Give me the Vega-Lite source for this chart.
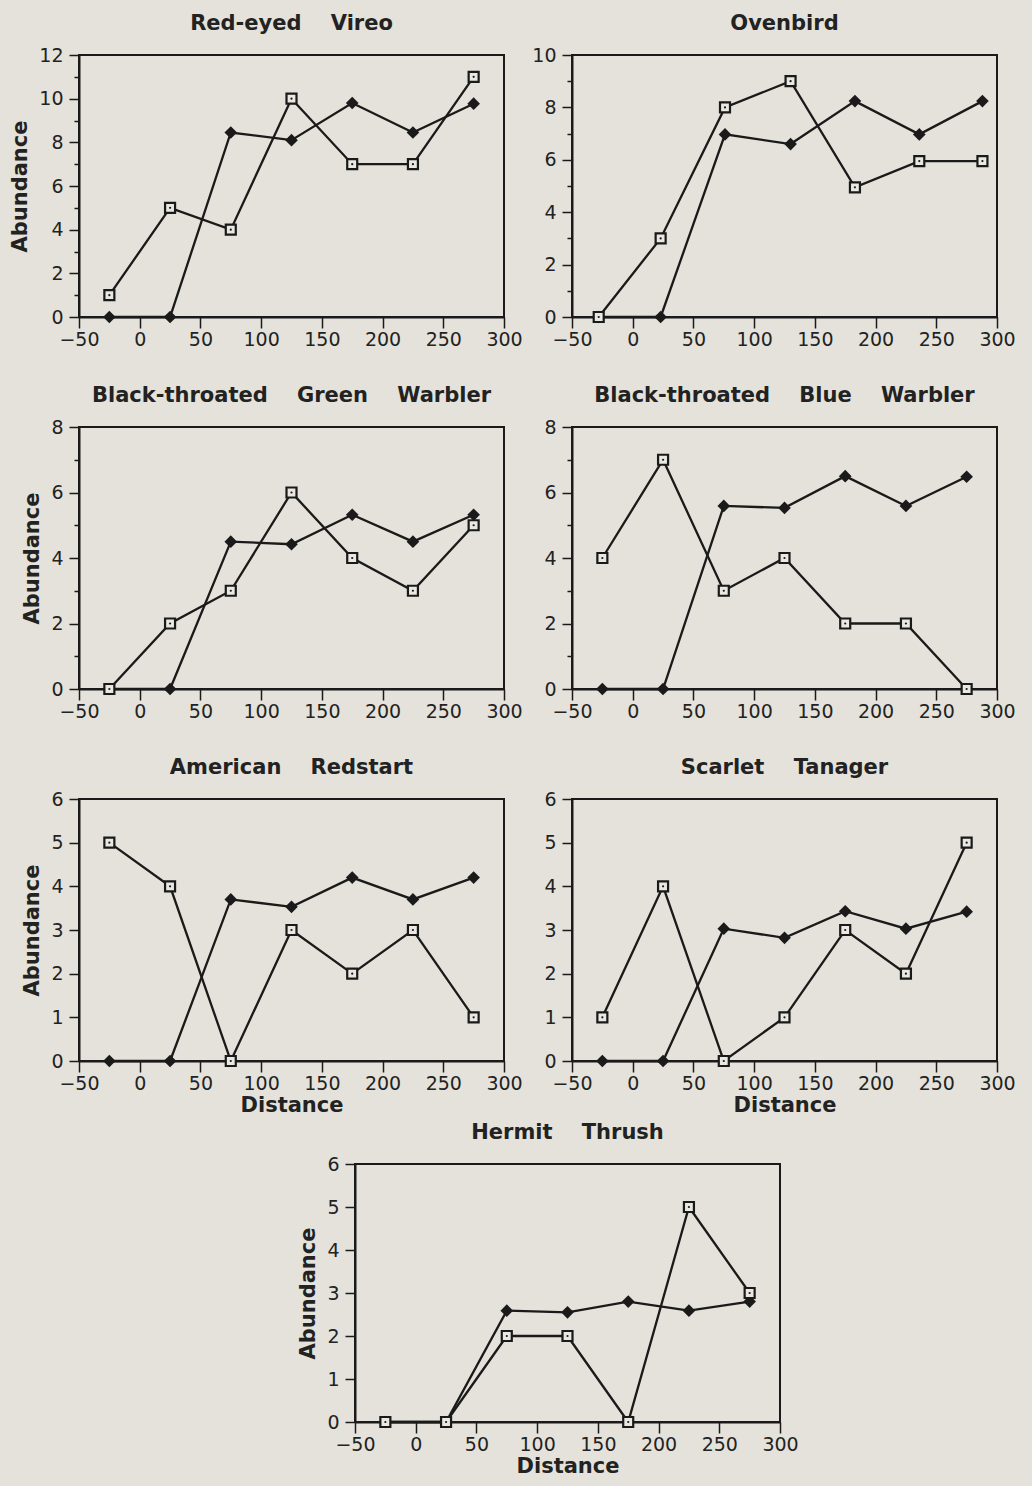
{
  "$schema": "https://vega.github.io/schema/vega-lite/v6.json",
  "background": "#e4e2da",
  "padding": {"left": 8, "top": 12, "right": 30, "bottom": 20},
  "data": {"values": [
    {"sp":"RV","s":"B","d":-25,"a":1},{"sp":"RV","s":"B","d":25,"a":5},{"sp":"RV","s":"B","d":75,"a":4},{"sp":"RV","s":"B","d":125,"a":10},{"sp":"RV","s":"B","d":175,"a":7},{"sp":"RV","s":"B","d":225,"a":7},{"sp":"RV","s":"B","d":275,"a":11},
    {"sp":"RV","s":"A","d":-25,"a":0},{"sp":"RV","s":"A","d":25,"a":0},{"sp":"RV","s":"A","d":75,"a":8.45},{"sp":"RV","s":"A","d":125,"a":8.1},{"sp":"RV","s":"A","d":175,"a":9.8},{"sp":"RV","s":"A","d":225,"a":8.45},{"sp":"RV","s":"A","d":275,"a":9.77},
    {"sp":"OV","s":"B","d":-28,"a":0},{"sp":"OV","s":"B","d":23,"a":3},{"sp":"OV","s":"B","d":76,"a":8},{"sp":"OV","s":"B","d":130,"a":9},{"sp":"OV","s":"B","d":183,"a":4.95},{"sp":"OV","s":"B","d":236,"a":5.95},{"sp":"OV","s":"B","d":288,"a":5.95},
    {"sp":"OV","s":"A","d":-28,"a":0},{"sp":"OV","s":"A","d":23,"a":0},{"sp":"OV","s":"A","d":76,"a":6.97},{"sp":"OV","s":"A","d":130,"a":6.6},{"sp":"OV","s":"A","d":183,"a":8.24},{"sp":"OV","s":"A","d":236,"a":6.97},{"sp":"OV","s":"A","d":288,"a":8.24},
    {"sp":"BTGW","s":"B","d":-25,"a":0},{"sp":"BTGW","s":"B","d":25,"a":2},{"sp":"BTGW","s":"B","d":75,"a":3},{"sp":"BTGW","s":"B","d":125,"a":6},{"sp":"BTGW","s":"B","d":175,"a":4},{"sp":"BTGW","s":"B","d":225,"a":3},{"sp":"BTGW","s":"B","d":275,"a":5},
    {"sp":"BTGW","s":"A","d":-25,"a":0},{"sp":"BTGW","s":"A","d":25,"a":0},{"sp":"BTGW","s":"A","d":75,"a":4.5},{"sp":"BTGW","s":"A","d":125,"a":4.42},{"sp":"BTGW","s":"A","d":175,"a":5.32},{"sp":"BTGW","s":"A","d":225,"a":4.5},{"sp":"BTGW","s":"A","d":275,"a":5.32},
    {"sp":"BTBW","s":"B","d":-25,"a":4},{"sp":"BTBW","s":"B","d":25,"a":7},{"sp":"BTBW","s":"B","d":75,"a":3},{"sp":"BTBW","s":"B","d":125,"a":4},{"sp":"BTBW","s":"B","d":175,"a":2},{"sp":"BTBW","s":"B","d":225,"a":2},{"sp":"BTBW","s":"B","d":275,"a":0},
    {"sp":"BTBW","s":"A","d":-25,"a":0},{"sp":"BTBW","s":"A","d":25,"a":0},{"sp":"BTBW","s":"A","d":75,"a":5.59},{"sp":"BTBW","s":"A","d":125,"a":5.53},{"sp":"BTBW","s":"A","d":175,"a":6.5},{"sp":"BTBW","s":"A","d":225,"a":5.59},{"sp":"BTBW","s":"A","d":275,"a":6.48},
    {"sp":"AR","s":"B","d":-25,"a":5},{"sp":"AR","s":"B","d":25,"a":4},{"sp":"AR","s":"B","d":75,"a":0},{"sp":"AR","s":"B","d":125,"a":3},{"sp":"AR","s":"B","d":175,"a":2},{"sp":"AR","s":"B","d":225,"a":3},{"sp":"AR","s":"B","d":275,"a":1},
    {"sp":"AR","s":"A","d":-25,"a":0},{"sp":"AR","s":"A","d":25,"a":0},{"sp":"AR","s":"A","d":75,"a":3.7},{"sp":"AR","s":"A","d":125,"a":3.53},{"sp":"AR","s":"A","d":175,"a":4.2},{"sp":"AR","s":"A","d":225,"a":3.7},{"sp":"AR","s":"A","d":275,"a":4.2},
    {"sp":"ST","s":"B","d":-25,"a":1},{"sp":"ST","s":"B","d":25,"a":4},{"sp":"ST","s":"B","d":75,"a":0},{"sp":"ST","s":"B","d":125,"a":1},{"sp":"ST","s":"B","d":175,"a":3},{"sp":"ST","s":"B","d":225,"a":2},{"sp":"ST","s":"B","d":275,"a":5},
    {"sp":"ST","s":"A","d":-25,"a":0},{"sp":"ST","s":"A","d":25,"a":0},{"sp":"ST","s":"A","d":75,"a":3.03},{"sp":"ST","s":"A","d":125,"a":2.82},{"sp":"ST","s":"A","d":175,"a":3.43},{"sp":"ST","s":"A","d":225,"a":3.03},{"sp":"ST","s":"A","d":275,"a":3.42},
    {"sp":"HT","s":"B","d":-25,"a":0},{"sp":"HT","s":"B","d":25,"a":0},{"sp":"HT","s":"B","d":75,"a":2},{"sp":"HT","s":"B","d":125,"a":2},{"sp":"HT","s":"B","d":175,"a":0},{"sp":"HT","s":"B","d":225,"a":5},{"sp":"HT","s":"B","d":275,"a":3},
    {"sp":"HT","s":"A","d":-25,"a":0},{"sp":"HT","s":"A","d":25,"a":0},{"sp":"HT","s":"A","d":75,"a":2.59},{"sp":"HT","s":"A","d":125,"a":2.55},{"sp":"HT","s":"A","d":175,"a":2.8},{"sp":"HT","s":"A","d":225,"a":2.59},{"sp":"HT","s":"A","d":275,"a":2.8}
  ]},
  "spacing": 5,
  "vconcat": [
    {"spacing": 34, "vconcat": [
    {"bounds": "flush", "spacing": 68, "hconcat": [
      {"width": 425, "height": 262, "title": "Red-eyed\u00a0\u00a0\u00a0 Vireo",
       "transform": [{"filter": "datum.sp === 'RV'"}],
       "encoding": {
         "x": {"field": "d", "type": "quantitative", "scale": {"domain": [-50, 300], "nice": false}, "axis": {"title": null, "values": [-50,0,50,100,150,200,250,300], "tickSize": 11, "labelPadding": 2}},
         "y": {"field": "a", "type": "quantitative", "scale": {"domain": [0, 12], "nice": false}, "axis": {"title": "Abundance", "titlePadding": 8, "format": "d", "values": [0,1,2,3,4,5,6,7,8,9,10,11,12], "labelExpr": "datum.value % 2 === 0 ? datum.label : ''", "tickSize": {"condition": {"test": "datum.value % 2 === 0", "value": 10}, "value": 5}, "labelPadding": 6}}
       },
       "layer": [
         {"mark": {"type": "line", "color": "#1a1a1a", "strokeWidth": 2.3}, "encoding": {"detail": {"field": "s"}}},
         {"transform": [{"filter": "datum.s === 'A'"}], "mark": {"type": "point", "shape": "diamond", "filled": true, "color": "#1a1a1a", "size": 160, "opacity": 1}},
         {"transform": [{"filter": "datum.s === 'B'"}], "mark": {"type": "point", "shape": "square", "fill": "#e9e8e2", "stroke": "#1a1a1a", "strokeWidth": 2.2, "size": 100, "opacity": 1, "fillOpacity": 1}},
         {"transform": [{"filter": "datum.s === 'B'"}], "mark": {"type": "point", "shape": "circle", "filled": true, "color": "#1a1a1a", "size": 5, "opacity": 1}}
       ]},
      {"width": 425, "height": 262, "title": "Ovenbird",
       "transform": [{"filter": "datum.sp === 'OV'"}],
       "encoding": {
         "x": {"field": "d", "type": "quantitative", "scale": {"domain": [-50, 300], "nice": false}, "axis": {"title": null, "values": [-50,0,50,100,150,200,250,300], "tickSize": 11, "labelPadding": 2}},
         "y": {"field": "a", "type": "quantitative", "scale": {"domain": [0, 10], "nice": false}, "axis": {"title": null, "format": "d", "values": [0,1,2,3,4,5,6,7,8,9,10], "labelExpr": "datum.value % 2 === 0 ? datum.label : ''", "tickSize": {"condition": {"test": "datum.value % 2 === 0", "value": 10}, "value": 5}, "labelPadding": 6}}
       },
       "layer": [
         {"mark": {"type": "line", "color": "#1a1a1a", "strokeWidth": 2.3}, "encoding": {"detail": {"field": "s"}}},
         {"transform": [{"filter": "datum.s === 'A'"}], "mark": {"type": "point", "shape": "diamond", "filled": true, "color": "#1a1a1a", "size": 160, "opacity": 1}},
         {"transform": [{"filter": "datum.s === 'B'"}], "mark": {"type": "point", "shape": "square", "fill": "#e9e8e2", "stroke": "#1a1a1a", "strokeWidth": 2.2, "size": 100, "opacity": 1, "fillOpacity": 1}},
         {"transform": [{"filter": "datum.s === 'B'"}], "mark": {"type": "point", "shape": "circle", "filled": true, "color": "#1a1a1a", "size": 5, "opacity": 1}}
       ]}
    ]},
    {"bounds": "flush", "spacing": 68, "hconcat": [
      {"width": 425, "height": 262, "title": "Black-throated\u00a0\u00a0\u00a0 Green\u00a0\u00a0\u00a0 Warbler",
       "transform": [{"filter": "datum.sp === 'BTGW'"}],
       "encoding": {
         "x": {"field": "d", "type": "quantitative", "scale": {"domain": [-50, 300], "nice": false}, "axis": {"title": null, "values": [-50,0,50,100,150,200,250,300], "tickSize": 11, "labelPadding": 2}},
         "y": {"field": "a", "type": "quantitative", "scale": {"domain": [0, 8], "nice": false}, "axis": {"title": "Abundance", "titlePadding": 8, "format": "d", "values": [0,1,2,3,4,5,6,7,8], "labelExpr": "datum.value % 2 === 0 ? datum.label : ''", "tickSize": {"condition": {"test": "datum.value % 2 === 0", "value": 10}, "value": 5}, "labelPadding": 6}}
       },
       "layer": [
         {"mark": {"type": "line", "color": "#1a1a1a", "strokeWidth": 2.3}, "encoding": {"detail": {"field": "s"}}},
         {"transform": [{"filter": "datum.s === 'A'"}], "mark": {"type": "point", "shape": "diamond", "filled": true, "color": "#1a1a1a", "size": 160, "opacity": 1}},
         {"transform": [{"filter": "datum.s === 'B'"}], "mark": {"type": "point", "shape": "square", "fill": "#e9e8e2", "stroke": "#1a1a1a", "strokeWidth": 2.2, "size": 100, "opacity": 1, "fillOpacity": 1}},
         {"transform": [{"filter": "datum.s === 'B'"}], "mark": {"type": "point", "shape": "circle", "filled": true, "color": "#1a1a1a", "size": 5, "opacity": 1}}
       ]},
      {"width": 425, "height": 262, "title": "Black-throated\u00a0\u00a0\u00a0 Blue\u00a0\u00a0\u00a0 Warbler",
       "transform": [{"filter": "datum.sp === 'BTBW'"}],
       "encoding": {
         "x": {"field": "d", "type": "quantitative", "scale": {"domain": [-50, 300], "nice": false}, "axis": {"title": null, "values": [-50,0,50,100,150,200,250,300], "tickSize": 11, "labelPadding": 2}},
         "y": {"field": "a", "type": "quantitative", "scale": {"domain": [0, 8], "nice": false}, "axis": {"title": null, "format": "d", "values": [0,1,2,3,4,5,6,7,8], "labelExpr": "datum.value % 2 === 0 ? datum.label : ''", "tickSize": {"condition": {"test": "datum.value % 2 === 0", "value": 10}, "value": 5}, "labelPadding": 6}}
       },
       "layer": [
         {"mark": {"type": "line", "color": "#1a1a1a", "strokeWidth": 2.3}, "encoding": {"detail": {"field": "s"}}},
         {"transform": [{"filter": "datum.s === 'A'"}], "mark": {"type": "point", "shape": "diamond", "filled": true, "color": "#1a1a1a", "size": 160, "opacity": 1}},
         {"transform": [{"filter": "datum.s === 'B'"}], "mark": {"type": "point", "shape": "square", "fill": "#e9e8e2", "stroke": "#1a1a1a", "strokeWidth": 2.2, "size": 100, "opacity": 1, "fillOpacity": 1}},
         {"transform": [{"filter": "datum.s === 'B'"}], "mark": {"type": "point", "shape": "circle", "filled": true, "color": "#1a1a1a", "size": 5, "opacity": 1}}
       ]}
    ]},
    {"bounds": "flush", "spacing": 68, "hconcat": [
      {"width": 425, "height": 262, "title": "American\u00a0\u00a0\u00a0 Redstart",
       "transform": [{"filter": "datum.sp === 'AR'"}],
       "encoding": {
         "x": {"field": "d", "type": "quantitative", "scale": {"domain": [-50, 300], "nice": false}, "axis": {"title": "Distance", "titlePadding": 1, "values": [-50,0,50,100,150,200,250,300], "tickSize": 11, "labelPadding": 2}},
         "y": {"field": "a", "type": "quantitative", "scale": {"domain": [0, 6], "nice": false}, "axis": {"title": "Abundance", "titlePadding": 8, "format": "d", "values": [0,0.5,1,1.5,2,2.5,3,3.5,4,4.5,5,5.5,6], "labelExpr": "datum.value % 1 === 0 ? datum.label : ''", "tickSize": {"condition": {"test": "datum.value % 1 === 0", "value": 10}, "value": 5}, "labelPadding": 6}}
       },
       "layer": [
         {"mark": {"type": "line", "color": "#1a1a1a", "strokeWidth": 2.3}, "encoding": {"detail": {"field": "s"}}},
         {"transform": [{"filter": "datum.s === 'A'"}], "mark": {"type": "point", "shape": "diamond", "filled": true, "color": "#1a1a1a", "size": 160, "opacity": 1}},
         {"transform": [{"filter": "datum.s === 'B'"}], "mark": {"type": "point", "shape": "square", "fill": "#e9e8e2", "stroke": "#1a1a1a", "strokeWidth": 2.2, "size": 100, "opacity": 1, "fillOpacity": 1}},
         {"transform": [{"filter": "datum.s === 'B'"}], "mark": {"type": "point", "shape": "circle", "filled": true, "color": "#1a1a1a", "size": 5, "opacity": 1}}
       ]},
      {"width": 425, "height": 262, "title": "Scarlet\u00a0\u00a0\u00a0 Tanager",
       "transform": [{"filter": "datum.sp === 'ST'"}],
       "encoding": {
         "x": {"field": "d", "type": "quantitative", "scale": {"domain": [-50, 300], "nice": false}, "axis": {"title": "Distance", "titlePadding": 1, "values": [-50,0,50,100,150,200,250,300], "tickSize": 11, "labelPadding": 2}},
         "y": {"field": "a", "type": "quantitative", "scale": {"domain": [0, 6], "nice": false}, "axis": {"title": null, "format": "d", "values": [0,0.5,1,1.5,2,2.5,3,3.5,4,4.5,5,5.5,6], "labelExpr": "datum.value % 1 === 0 ? datum.label : ''", "tickSize": {"condition": {"test": "datum.value % 1 === 0", "value": 10}, "value": 5}, "labelPadding": 6}}
       },
       "layer": [
         {"mark": {"type": "line", "color": "#1a1a1a", "strokeWidth": 2.3}, "encoding": {"detail": {"field": "s"}}},
         {"transform": [{"filter": "datum.s === 'A'"}], "mark": {"type": "point", "shape": "diamond", "filled": true, "color": "#1a1a1a", "size": 160, "opacity": 1}},
         {"transform": [{"filter": "datum.s === 'B'"}], "mark": {"type": "point", "shape": "square", "fill": "#e9e8e2", "stroke": "#1a1a1a", "strokeWidth": 2.2, "size": 100, "opacity": 1, "fillOpacity": 1}},
         {"transform": [{"filter": "datum.s === 'B'"}], "mark": {"type": "point", "shape": "circle", "filled": true, "color": "#1a1a1a", "size": 5, "opacity": 1}}
       ]}
    ]}
    ]},
    {"bounds": "flush", "spacing": 68, "hconcat": [
      {"width": 208, "height": 258, "data": {"values": []}, "mark": "point", "view": {"stroke": null}},
      {"width": 425, "height": 258, "title": "Hermit\u00a0\u00a0\u00a0 Thrush",
       "transform": [{"filter": "datum.sp === 'HT'"}],
       "encoding": {
         "x": {"field": "d", "type": "quantitative", "scale": {"domain": [-50, 300], "nice": false}, "axis": {"title": "Distance", "titlePadding": 1, "values": [-50,0,50,100,150,200,250,300], "tickSize": 11, "labelPadding": 2}},
         "y": {"field": "a", "type": "quantitative", "scale": {"domain": [0, 6], "nice": false}, "axis": {"title": "Abundance", "titlePadding": 8, "format": "d", "values": [0,0.5,1,1.5,2,2.5,3,3.5,4,4.5,5,5.5,6], "labelExpr": "datum.value % 1 === 0 ? datum.label : ''", "tickSize": {"condition": {"test": "datum.value % 1 === 0", "value": 10}, "value": 5}, "labelPadding": 6}}
       },
       "layer": [
         {"mark": {"type": "line", "color": "#1a1a1a", "strokeWidth": 2.3}, "encoding": {"detail": {"field": "s"}}},
         {"transform": [{"filter": "datum.s === 'A'"}], "mark": {"type": "point", "shape": "diamond", "filled": true, "color": "#1a1a1a", "size": 160, "opacity": 1}},
         {"transform": [{"filter": "datum.s === 'B'"}], "mark": {"type": "point", "shape": "square", "fill": "#e9e8e2", "stroke": "#1a1a1a", "strokeWidth": 2.2, "size": 100, "opacity": 1, "fillOpacity": 1}},
         {"transform": [{"filter": "datum.s === 'B'"}], "mark": {"type": "point", "shape": "circle", "filled": true, "color": "#1a1a1a", "size": 5, "opacity": 1}}
       ]}
    ]}
  ],
  "config": {
    "view": {"stroke": "#1a1a1a", "strokeWidth": 2},
    "axis": {"grid": false, "domainColor": "#1a1a1a", "domainWidth": 2, "tickColor": "#1a1a1a", "tickWidth": 1.5, "labelFont": "DejaVu Sans", "labelFontSize": 19, "labelColor": "#222222", "titleFont": "DejaVu Sans", "titleFontWeight": "bold", "titleFontSize": 21, "titleColor": "#222222", "labelFlush": false, "labelOverlap": false},
    "title": {"font": "DejaVu Sans", "fontSize": 21, "fontWeight": "bold", "color": "#222222", "offset": 12, "anchor": "middle"}
  }
}
